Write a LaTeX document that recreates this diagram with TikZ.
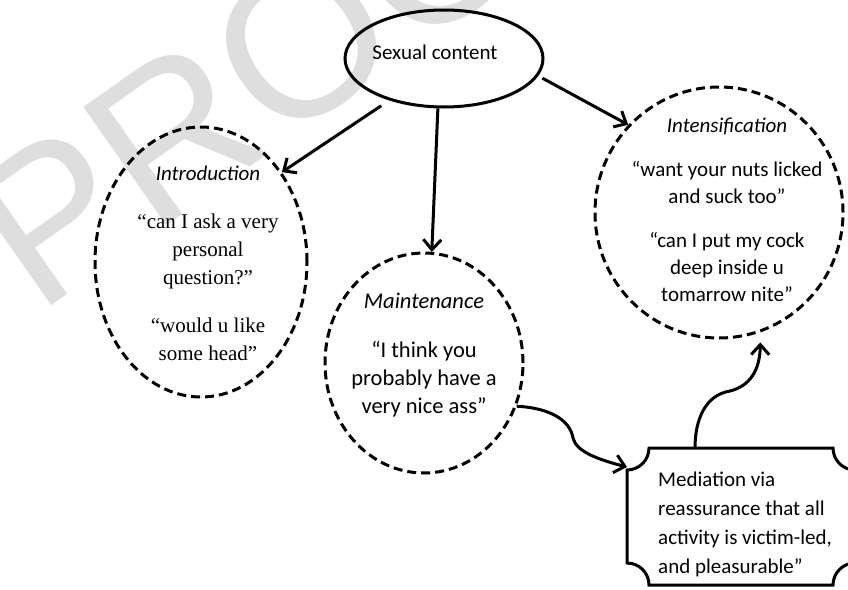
\documentclass[tikz,border=0pt]{standalone}
\usepackage{fontspec}
\setmainfont{Carlito}
\newfontfamily\serifq{Liberation Serif}
\newfontfamily\wmfont{Liberation Sans}
\usetikzlibrary{arrows.meta,shapes.geometric}
\tikzset{
  bubble/.style={ellipse, draw, line width=3pt, dash pattern=on 9pt off 5pt, inner sep=0pt},
  conn/.style={line width=3pt, -{Straight Barb[length=10pt,width=18pt]}},
  txt/.style={align=center, font=\fontsize{21}{28}\selectfont, inner sep=0pt},
  wm/.style={font=\wmfont\fontsize{210}{210}\selectfont, text=black!13, rotate=35, inner sep=0pt},
}
\begin{document}
\begin{tikzpicture}[x=1pt,y=-1pt]
\useasboundingbox (0,0) rectangle (848,589);
\clip (0,0) rectangle (848,589);
\node[wm] (mark) at (302,42) {PROOF};

% main ellipse
\node[ellipse, draw, line width=3pt, minimum width=198pt, minimum height=97pt, inner sep=0pt] (sc) at (444,58.5) {};
\node[txt] (sctext) at (435,52) {Sexual content};

% stage bubbles
\node[bubble, minimum width=212pt, minimum height=270pt] (intro) at (201,262) {};
\node[bubble, minimum width=198pt, minimum height=220pt] (maint) at (424,363) {};
\node[bubble, minimum width=248pt, minimum height=251pt] (intens) at (719,212.5) {};

\node[txt] (introtxt) at (208,263) {\textit{Introduction}\\[20pt]\serifq “can I ask a very\\ \serifq personal\\ \serifq question?”\\[20pt] \serifq “would u like\\ \serifq some head”};
\node[txt, font=\fontsize{22.5}{28}\selectfont] (mainttxt) at (424,355.5) {\textit{Maintenance}\\[21pt] “I think you\\ probably have a\\ very nice ass”};
\node[txt, font=\fontsize{21}{27}\selectfont] (intenstxt) at (727,210) {\textit{Intensification}\\[17pt] “want your nuts licked\\ and suck too”\\[17pt] “can I put my cock\\ deep inside u\\ tomarrow nite”};

% mediation plaque
\draw[line width=3pt] (627,470) -- (627,563) .. controls (639.15,563) and (649,572.85) .. (649,585)
  -- (833,585) .. controls (833,572.85) and (842.85,563) .. (855,563)
  -- (855,470) .. controls (842.85,470) and (833,460.15) .. (833,448)
  -- (649,448) .. controls (649,460.15) and (639.15,470) .. (627,470) -- cycle;
\node[txt, align=left, anchor=west, font=\fontsize{21}{29}\selectfont] (med) at (658,524) {Mediation via\\ reassurance that all\\ activity is victim-led,\\ and pleasurable”};
\coordinate (medA) at (627,467);
\coordinate (medB) at (695,448);

% connectors
\draw[conn] ([shift={(-6pt,-6pt)}]sc.216) -- (intro.48);
\draw[conn] (sc.263) -- (maint.86);
\draw[conn] ([xshift=6pt]sc.-12) -- (intens.136);
\draw[conn] (maint.-25) .. controls (550,408) and (570,420) .. (573,438) .. controls (576,452) and (600,460) .. (medA);
\draw[conn] (medB) .. controls (695,420) and (705,395) .. (730,391) .. controls (750,386) and (760,370) .. ([yshift=-10pt]intens.-71);
\end{tikzpicture}
\end{document}
